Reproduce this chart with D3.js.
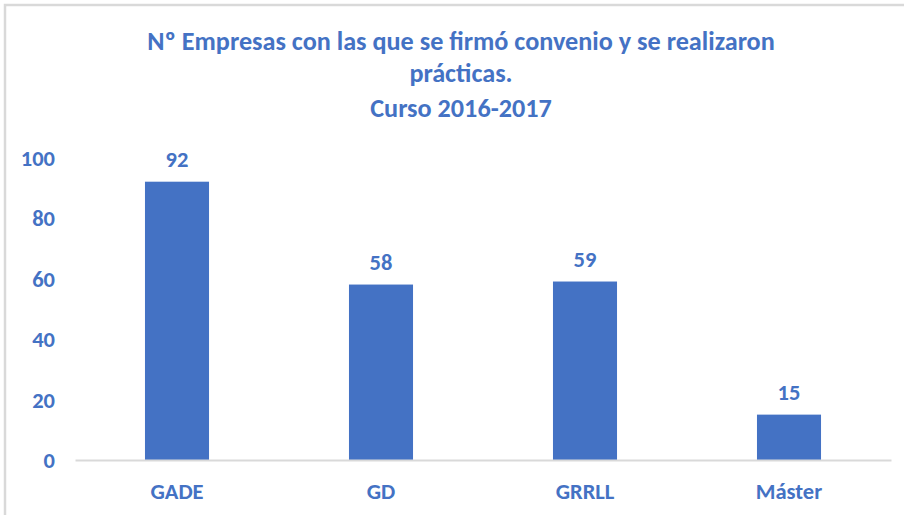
<!DOCTYPE html>
<html>
<head>
<meta charset="utf-8">
<script src="https://cdn.jsdelivr.net/npm/d3@7"></script>
<style>
  body { margin: 0; background: #fff; }
  text { font-family: Carlito, "Liberation Sans Narrow", "Open Sans", sans-serif; font-weight: bold; }
</style>
</head>
<body>
<div id="chart"></div>
<script>
// data
const categories = ["GADE", "GD", "GRRLL", "Máster"];
const values = [92, 58, 59, 15];
const yTicks = [0, 20, 40, 60, 80, 100];
const titleLines = [
  "Nº Empresas con las que se firmó convenio y se realizaron",
  "prácticas.",
  "Curso 2016-2017"
];
const titleY = [50, 82, 117];

const width = 904, height = 515;
const blue = "#4472C4";

const svg = d3.select("#chart")
  .append("svg")
  .attr("width", width)
  .attr("height", height);

// frame (only top and left edges show in the picture)
svg.append("path")
  .attr("d", `M5,${height} V5 H${width}`)
  .attr("fill", "none")
  .attr("stroke", "#d9d9d9")
  .attr("stroke-width", 2.5);

const x = d3.scaleBand()
  .domain(categories)
  .range([75, 891])
  .paddingInner(0.686)
  .paddingOuter(0.343);

const y = d3.scaleLinear()
  .domain([0, 100])
  .range([460, 157.5]);

// title
svg.append("text")
  .attr("text-anchor", "middle")
  .attr("fill", blue)
  .attr("font-size", 26.2)
  .selectAll("tspan")
  .data(titleLines)
  .join("tspan")
  .attr("x", 461)
  .attr("y", (d, i) => titleY[i])
  .text(d => d);

// y axis labels, no line
const yAxis = svg.append("g")
  .attr("transform", "translate(55,0)")
  .call(d3.axisLeft(y).tickValues(yTicks).tickSize(0).tickPadding(0));
yAxis.select(".domain").remove();
yAxis.selectAll("text")
  .attr("fill", blue)
  .attr("font-size", 22.5)
  .attr("font-family", null)
  .attr("dy", "0.35em");

// bars
svg.append("g")
  .selectAll("rect")
  .data(values)
  .join("rect")
  .attr("x", (d, i) => x(categories[i]))
  .attr("y", d => y(d))
  .attr("width", x.bandwidth())
  .attr("height", d => y(0) - y(d))
  .attr("fill", blue);

// x axis line and labels
const xAxis = svg.append("g")
  .attr("transform", `translate(0,${y(0)})`)
  .call(d3.axisBottom(x).tickSize(0).tickPadding(23));
xAxis.select(".domain")
  .attr("stroke", "#d9d9d9")
  .attr("stroke-width", 2);
xAxis.selectAll("text")
  .attr("fill", blue)
  .attr("font-size", 22.5)
  .attr("font-family", null);

// value labels
svg.append("g")
  .attr("text-anchor", "middle")
  .attr("fill", blue)
  .attr("font-size", 22.5)
  .selectAll("text")
  .data(values)
  .join("text")
  .attr("x", (d, i) => x(categories[i]) + x.bandwidth() / 2)
  .attr("y", d => y(d) - 15)
  .text(d => d);
</script>
</body>
</html>
